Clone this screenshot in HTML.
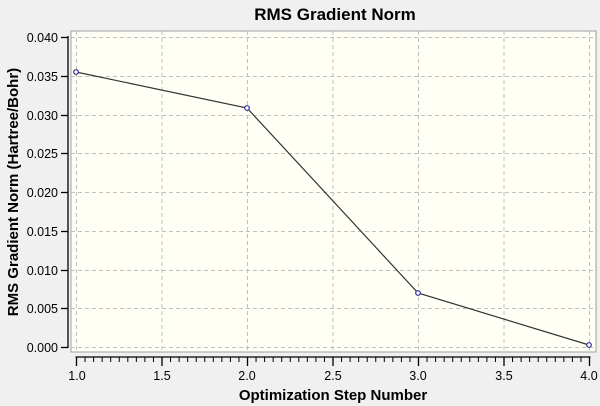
<!DOCTYPE html><html><head><style>body{margin:0;background:#f0f0f0}svg{display:block}text{font-family:"Liberation Sans",Arial,sans-serif}</style></head><body>
<svg width="600" height="406" xmlns="http://www.w3.org/2000/svg">
<rect width="600" height="406" fill="#f0f0f0"/>
<text x="335" y="20" font-size="17" font-weight="bold" text-anchor="middle" fill="#000">RMS Gradient Norm</text>
<rect x="71" y="31" width="525" height="321" fill="#fffff5" stroke="#a0a0a0" stroke-width="1"/>
<g stroke="#c0c0c0" stroke-dasharray="4,3" stroke-width="1">
<line x1="71" x2="596" y1="37.5" y2="37.5"/><line x1="71" x2="596" y1="76.5" y2="76.5"/><line x1="71" x2="596" y1="115.5" y2="115.5"/><line x1="71" x2="596" y1="153.5" y2="153.5"/><line x1="71" x2="596" y1="192.5" y2="192.5"/><line x1="71" x2="596" y1="231.5" y2="231.5"/><line x1="71" x2="596" y1="270.5" y2="270.5"/><line x1="71" x2="596" y1="308.5" y2="308.5"/><line x1="71" x2="596" y1="347.5" y2="347.5"/>
<line y1="31" y2="352" x1="76.5" x2="76.5"/><line y1="31" y2="352" x1="162" x2="162"/><line y1="31" y2="352" x1="247.5" x2="247.5"/><line y1="31" y2="352" x1="333" x2="333"/><line y1="31" y2="352" x1="418.5" x2="418.5"/><line y1="31" y2="352" x1="504" x2="504"/><line y1="31" y2="352" x1="589.5" x2="589.5"/>
</g>
<polyline points="76,72 247,108 418,293 589,345" fill="none" stroke="#333" stroke-width="1.2"/>
<g fill="#fff" stroke="#2a2a9a" stroke-width="1.2"><circle cx="76" cy="72" r="2.3"/><circle cx="247" cy="108" r="2.3"/><circle cx="418" cy="293" r="2.3"/><circle cx="589" cy="345" r="2.3"/></g>
<g stroke="#000" stroke-width="1.3"><line x1="68" y1="36" x2="68" y2="348"/>
<line x1="61" x2="68" y1="37.5" y2="37.5"/><line x1="61" x2="68" y1="76.5" y2="76.5"/><line x1="61" x2="68" y1="115.5" y2="115.5"/><line x1="61" x2="68" y1="153.5" y2="153.5"/><line x1="61" x2="68" y1="192.5" y2="192.5"/><line x1="61" x2="68" y1="231.5" y2="231.5"/><line x1="61" x2="68" y1="270.5" y2="270.5"/><line x1="61" x2="68" y1="308.5" y2="308.5"/><line x1="61" x2="68" y1="347.5" y2="347.5"/>
<line x1="75.5" x2="590.5" y1="357" y2="357"/></g>
<path stroke="#000" stroke-width="1" fill="none" d="M85.05 357V362M93.6 357V362M102.15 357V362M110.7 357V362M119.25 357V362M127.8 357V362M136.35 357V362M144.9 357V362M153.45 357V362M170.55 357V362M179.1 357V362M187.65 357V362M196.2 357V362M204.75 357V362M213.3 357V362M221.85 357V362M230.4 357V362M238.95 357V362M256.05 357V362M264.6 357V362M273.15 357V362M281.7 357V362M290.25 357V362M298.8 357V362M307.35 357V362M315.9 357V362M324.45 357V362M341.55 357V362M350.1 357V362M358.65 357V362M367.2 357V362M375.75 357V362M384.3 357V362M392.85 357V362M401.4 357V362M409.95 357V362M427.05 357V362M435.6 357V362M444.15 357V362M452.7 357V362M461.25 357V362M469.8 357V362M478.35 357V362M486.9 357V362M495.45 357V362M512.55 357V362M521.1 357V362M529.65 357V362M538.2 357V362M546.75 357V362M555.3 357V362M563.85 357V362M572.4 357V362M580.95 357V362"/>
<path stroke="#000" stroke-width="1.3" fill="none" d="M76.5 357V366M162 357V366M247.5 357V366M333 357V366M418.5 357V366M504 357V366M589.5 357V366"/>
<g font-size="12.5" text-anchor="end" fill="#000">
<text x="58" y="42">0.040</text><text x="58" y="81">0.035</text><text x="58" y="120">0.030</text><text x="58" y="158">0.025</text><text x="58" y="197">0.020</text><text x="58" y="236">0.015</text><text x="58" y="275">0.010</text><text x="58" y="313">0.005</text><text x="58" y="352">0.000</text></g>
<g font-size="12.5" text-anchor="middle" fill="#000">
<text x="77" y="380">1.0</text><text x="162" y="380">1.5</text><text x="247" y="380">2.0</text><text x="333" y="380">2.5</text><text x="418" y="380">3.0</text><text x="504" y="380">3.5</text><text x="589" y="380">4.0</text></g>
<text x="333" y="400" font-size="15" font-weight="bold" text-anchor="middle">Optimization Step Number</text>
<text transform="translate(18,192) rotate(-90)" font-size="15" font-weight="bold" text-anchor="middle">RMS Gradient Norm (Hartree/Bohr)</text>
</svg></body></html>
